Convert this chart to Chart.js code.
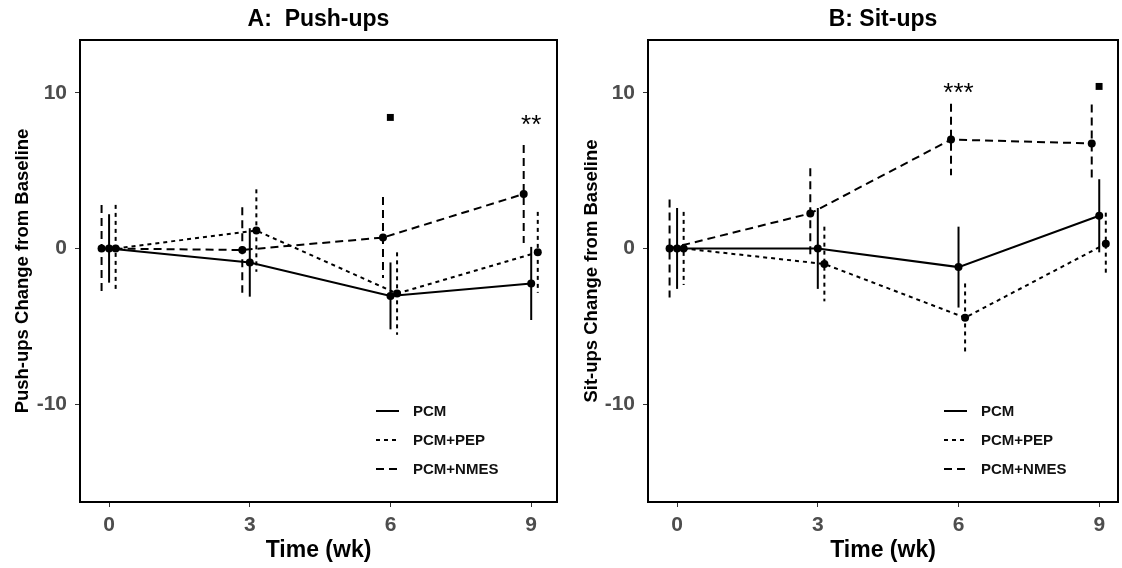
<!DOCTYPE html>
<html>
<head>
<meta charset="utf-8">
<script src="https://cdn.jsdelivr.net/npm/chart.js@4.4.1/dist/chart.umd.min.js"></script>
<style>
    body { margin: 0; background: #fff; }
    .panel { position: absolute; top: 0; width: 561px; height: 568px; }
</style>
</head>
<body>
<div class="panel" style="left:0"><canvas id="pushChart" width="561" height="568"></canvas></div>
<div class="panel" style="left:561px"><canvas id="sitChart" width="561" height="568"></canvas></div>
<script>
var weeks = [0, 3, 6, 9];
var groups = ['PCM', 'PCM+PEP', 'PCM+NMES'];
var yTicks = [-10, 0, 10];

// push-ups: mean change and error half-width
var pushPCM = [0, -0.9, -3.05, -2.25];
var pushPCMErr = [2.2, 2.2, 2.15, 2.35];
var pushPEP = [0, 1.15, -2.9, -0.25];
var pushPEPErr = [2.8, 2.65, 2.65, 2.6];
var pushNMES = [0, -0.1, 0.7, 3.5];
var pushNMESErr = [2.8, 2.75, 2.6, 3.15];
var pushMarks = ['\u25AA', '**'];
var pushMarkWeeks = [6, 9];
var pushMarkY = [8.4, 8.3];

// sit-ups
var sitPCM = [0, 0, -1.2, 2.1];
var sitPCMErr = [2.6, 2.6, 2.6, 2.35];
var sitPEP = [0, -1.0, -4.45, 0.3];
var sitPEPErr = [2.35, 2.4, 2.2, 2.0];
var sitNMES = [0, 2.25, 7.0, 6.75];
var sitNMESErr = [3.15, 2.9, 2.3, 2.5];
var sitMarks = ['***', '\u25AA'];
var sitMarkWeeks = [6, 9];
var sitMarkY = [10.3, 10.4];

var dashes = [[], [4, 4], [8, 5]];
var dodge = [0, 0.14, -0.16];
var FONT = '"Liberation Sans", Arial, sans-serif';

function makeSet(label, vals, errs, i) {
    return {
        label: label,
        data: weeks.map(function (w, k) { return { x: w + dodge[i], y: vals[k] }; }),
        errs: errs,
        borderColor: '#000',
        backgroundColor: '#000',
        borderWidth: 2,
        borderDash: dashes[i],
        pointRadius: 4,
        pointBackgroundColor: '#000',
        pointBorderWidth: 0,
        tension: 0
    };
}

// vertical error bars, same dash as the series
var errorBars = {
    id: 'errorBars',
    beforeDatasetsDraw: function (chart) {
        var ctx = chart.ctx, xs = chart.scales.x, ys = chart.scales.y;
        ctx.save();
        ctx.strokeStyle = '#000';
        ctx.lineWidth = 2;
        chart.data.datasets.forEach(function (ds, i) {
            ctx.setLineDash(dashes[i]);
            ds.data.forEach(function (p, k) {
                var px = xs.getPixelForValue(p.x);
                ctx.beginPath();
                ctx.moveTo(px, ys.getPixelForValue(p.y + ds.errs[k]));
                ctx.lineTo(px, ys.getPixelForValue(p.y - ds.errs[k]));
                ctx.stroke();
            });
        });
        ctx.restore();
    }
};

// frame, legend inside the panel, significance marks
var extras = {
    id: 'extras',
    afterDraw: function (chart) {
        var ctx = chart.ctx, a = chart.chartArea, o = chart.options.plugins.extras;
        ctx.save();
        ctx.strokeStyle = '#000';
        ctx.lineWidth = 2;
        ctx.setLineDash([]);
        ctx.strokeRect(a.left, a.top, a.right - a.left, a.bottom - a.top);

        ctx.font = 'bold 15px ' + FONT;
        ctx.fillStyle = '#111';
        ctx.textBaseline = 'middle';
        groups.forEach(function (g, i) {
            var lx = a.left + 296, ly = a.top + 371 + i * 29;
            ctx.setLineDash(dashes[i]);
            ctx.beginPath();
            ctx.moveTo(lx, ly);
            ctx.lineTo(lx + 23, ly);
            ctx.stroke();
            ctx.fillText(g, lx + 37, ly + 1);
        });

        ctx.setLineDash([]);
        ctx.fillStyle = '#000';
        ctx.textAlign = 'center';
        o.marks.forEach(function (m, i) {
            var px = chart.scales.x.getPixelForValue(o.markWeeks[i]);
            var py = chart.scales.y.getPixelForValue(o.markY[i]);
            var star = m.charAt(0) === '*';
            ctx.font = star ? '26px ' + FONT : 'bold 14px "DejaVu Sans", sans-serif';
            ctx.fillText(m, px, py + (star ? 6 : 0));
        });
        ctx.restore();
    }
};

function makePanel(id, title, yTitle, padLeft, padRight, xMax, sets, marks, markWeeks, markY) {
    var tickFont = { family: FONT, size: 21, weight: 'bold' };
    return new Chart(document.getElementById(id), {
        type: 'line',
        data: { datasets: sets },
        plugins: [errorBars, extras],
        options: {
            responsive: false,
            animation: false,
            layout: { padding: { left: padLeft, right: padRight, top: 0, bottom: 0 } },
            plugins: {
                legend: { display: false },
                tooltip: { enabled: false },
                title: {
                    display: true,
                    text: title,
                    fullSize: false,
                    color: '#000',
                    font: { family: FONT, size: 23, weight: 'bold' },
                    padding: { top: 6, bottom: 6.4 }
                },
                extras: { marks: marks, markWeeks: markWeeks, markY: markY }
            },
            scales: {
                x: {
                    type: 'linear',
                    min: -0.62,
                    max: xMax,
                    afterBuildTicks: function (s) { s.ticks = weeks.map(function (v) { return { value: v }; }); },
                    afterFit: function (s) { s.height = 66; },
                    ticks: { color: '#4d4d4d', font: tickFont, padding: 6, maxRotation: 0 },
                    grid: { drawOnChartArea: false, drawTicks: true, tickLength: 5, color: '#333' },
                    border: { display: true, color: '#000', width: 2 },
                    title: {
                        display: true,
                        text: 'Time (wk)',
                        color: '#000',
                        font: { family: FONT, size: 23, weight: 'bold' },
                        padding: { top: 0, bottom: 4 }
                    }
                },
                y: {
                    min: -16.3,
                    max: 13.4,
                    afterBuildTicks: function (s) { s.ticks = yTicks.map(function (v) { return { value: v }; }); },
                    afterFit: function (s) { s.width = 80 + (padLeft > 10 ? 7 : 0) - padLeft; },
                    ticks: { color: '#4d4d4d', font: tickFont, padding: 8 },
                    grid: { drawOnChartArea: false, drawTicks: true, tickLength: 5, color: '#333' },
                    border: { display: true, color: '#000', width: 2 },
                    title: {
                        display: true,
                        text: yTitle,
                        color: '#000',
                        font: { family: FONT, size: 18.5, weight: 'bold' },
                        padding: { top: 6, bottom: 4 }
                    }
                }
            }
        }
    });
}

makePanel('pushChart', 'A:  Push-ups', 'Push-ups Change from Baseline', 6, 3, 9.55, [
    makeSet(groups[0], pushPCM, pushPCMErr, 0),
    makeSet(groups[1], pushPEP, pushPEPErr, 1),
    makeSet(groups[2], pushNMES, pushNMESErr, 2)
], pushMarks, pushMarkWeeks, pushMarkY);

makePanel('sitChart', 'B: Sit-ups', 'Sit-ups Change from Baseline', 14, 2, 9.4, [
    makeSet(groups[0], sitPCM, sitPCMErr, 0),
    makeSet(groups[1], sitPEP, sitPEPErr, 1),
    makeSet(groups[2], sitNMES, sitNMESErr, 2)
], sitMarks, sitMarkWeeks, sitMarkY);
</script>
</body>
</html>
